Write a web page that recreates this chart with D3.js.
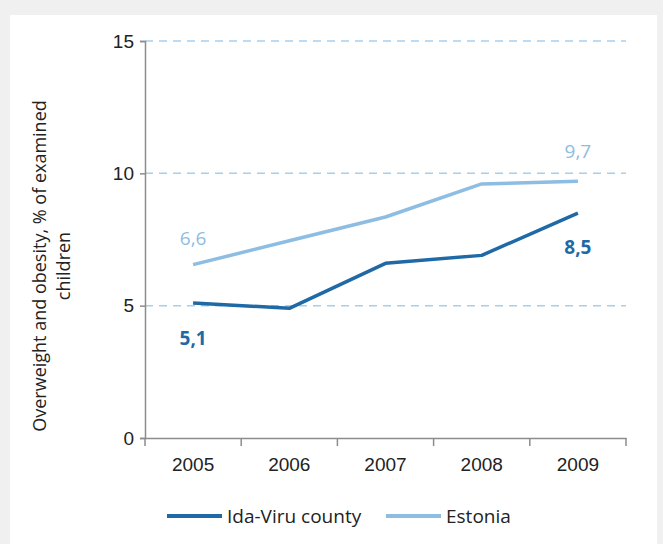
<!DOCTYPE html>
<html>
<head>
<meta charset="utf-8">
<script src="https://cdn.jsdelivr.net/npm/d3@7"></script>
<style>
  body { margin: 0; background: #f0f0f0; }
  svg { display: block; font-family: "Open Sans", sans-serif; }
</style>
</head>
<body>
<svg id="svg"></svg>
<script>
let years = ["2005", "2006", "2007", "2008", "2009"];
let idaViru = [5.1, 4.9, 6.6, 6.9, 8.5];
let estonia = [6.55, 7.45, 8.35, 9.6, 9.7];
let estoniaLabels = ["6,6", "", "", "", "9,7"];
let idaViruLabels = ["5,1", "", "", "", "8,5"];
let yTicks = [0, 5, 10, 15];
let seriesNames = ["Ida-Viru county", "Estonia"];
let seriesColors = ["#1f69a6", "#8dbde2"];

let width = 663, height = 544;
let svg = d3.select("#svg").attr("width", width).attr("height", height);

// white panel
svg.append("rect").attr("x", 10).attr("y", 15).attr("width", 647).attr("height", 529).attr("fill", "#fff");

let x = d3.scaleBand().domain(years).range([145, 626]);
let y = d3.scaleLinear().domain([0, 15]).range([438, 41]);
let fs = 19;

// grid
svg.append("g").selectAll("line")
    .data(yTicks.filter(d => d > 0))
    .join("line")
    .attr("x1", 145).attr("x2", 626)
    .attr("y1", d => y(d)).attr("y2", d => y(d))
    .attr("stroke", "#a6d0ee")
    .attr("stroke-width", 1.5)
    .attr("stroke-dasharray", "8,6");

// y axis
let yAxis = svg.append("g").attr("transform", "translate(145,0)")
    .call(d3.axisLeft(y).tickValues(yTicks).tickSize(5).tickPadding(6));
yAxis.select(".domain").attr("stroke", "#8c8c8c").attr("stroke-width", 1.5);
yAxis.selectAll(".tick line").attr("stroke", "#8c8c8c").attr("stroke-width", 1.5);
yAxis.selectAll(".tick text").attr("font-size", fs).attr("fill", "#222");

// x axis
let xAxis = svg.append("g").attr("transform", "translate(0,438)")
    .call(d3.axisBottom(x).tickSize(0).tickPadding(20));
xAxis.select(".domain").attr("stroke", "#8c8c8c").attr("stroke-width", 1.5);
xAxis.selectAll(".tick text").attr("font-size", fs).attr("fill", "#222");
// tick marks between categories
let bounds = years.map(d => x(d)).concat([x.range()[1]]);
svg.append("g").selectAll("line")
    .data(bounds)
    .join("line")
    .attr("x1", d => d).attr("x2", d => d)
    .attr("y1", 438).attr("y2", 446)
    .attr("stroke", "#8c8c8c").attr("stroke-width", 1.5);

// lines
let cx = i => x(years[i]) + x.bandwidth() / 2;
let line = d3.line()
    .x((d, i) => cx(i))
    .y(d => y(d));

[estonia, idaViru].forEach(function(s, k) {
    svg.append("path")
        .datum(s)
        .attr("d", line)
        .attr("fill", "none")
        .attr("stroke", seriesColors[1 - k])
        .attr("stroke-width", 3.5)
        .attr("stroke-linejoin", "round");
});

// data labels
svg.append("g").selectAll("text")
    .data(estonia)
    .join("text")
    .attr("x", (d, i) => cx(i))
    .attr("y", (d, i) => y(d) - (i == 0 ? 20 : 23))
    .attr("text-anchor", "middle").attr("font-size", fs).attr("fill", "#8dbde2")
    .text((d, i) => estoniaLabels[i]);
svg.append("g").selectAll("text")
    .data(idaViru)
    .join("text")
    .attr("x", (d, i) => cx(i))
    .attr("y", (d, i) => y(d) + (i == 0 ? 42 : 41))
    .attr("text-anchor", "middle").attr("font-size", fs).attr("font-weight", "bold").attr("fill", "#1f69a6")
    .text((d, i) => idaViruLabels[i]);

// y title
let title = svg.append("text")
    .attr("transform", "translate(46,266) rotate(-90)")
    .attr("text-anchor", "middle").attr("font-size", 18).attr("fill", "#222");
title.append("tspan").attr("x", 0).attr("dy", 0).text("Overweight and obesity,  % of examined");
title.append("tspan").attr("x", 0).attr("dy", 24).text("children");

// legend
let legendX = [167, 386];
seriesNames.forEach(function(n, i) {
    let g = svg.append("g").attr("transform", `translate(${legendX[i]},516)`);
    g.append("line").attr("x1", 0).attr("x2", 55).attr("y1", 0).attr("y2", 0)
        .attr("stroke", seriesColors[i]).attr("stroke-width", 4);
    g.append("text").attr("x", 60).attr("y", 7).attr("font-size", fs).attr("fill", "#222").text(n);
});
</script>
</body>
</html>
